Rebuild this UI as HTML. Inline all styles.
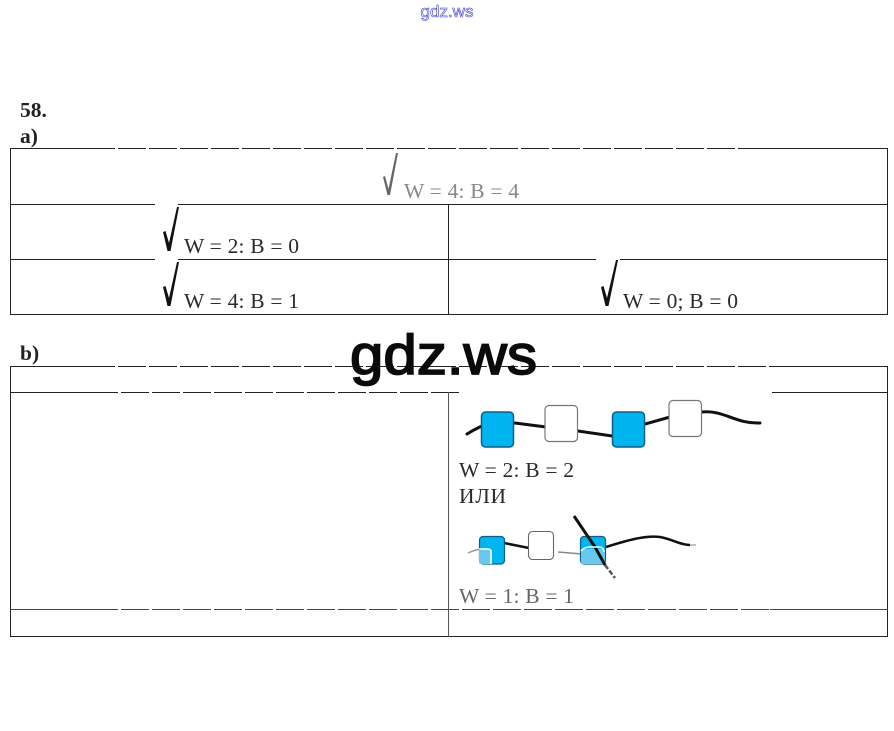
<!DOCTYPE html>
<html>
<head>
<meta charset="utf-8">
<style>
html,body{margin:0;padding:0;background:#fff;width:894px;height:731px;overflow:hidden}
svg{display:block}
.t{font-family:"Liberation Serif",serif;font-size:21.5px;fill:#2a2a2a}
.b{font-family:"Liberation Serif",serif;font-size:21.5px;font-weight:bold;fill:#222}
</style>
</head>
<body>
<svg width="894" height="731" viewBox="0 0 894 731" xmlns="http://www.w3.org/2000/svg">
<text x="447" y="17" text-anchor="middle" font-family="Liberation Sans,sans-serif" font-size="17" fill="#fff" stroke="#3a3ad0" stroke-width="0.6">gdz.ws</text>
<text class="b" x="20" y="117">58.</text>
<text class="b" x="20" y="143">a)</text>
<text class="b" x="20" y="360">b)</text>

<g stroke="#222" stroke-width="1" fill="none" shape-rendering="crispEdges">
<rect x="10.5" y="148.5" width="877" height="166"/>
<line x1="10" y1="204.500" x2="888" y2="204.500"/>
<line x1="10" y1="259.500" x2="888" y2="259.500"/>
<line x1="448.500" y1="204" x2="448.500" y2="315"/>
<rect x="10.5" y="366.5" width="877" height="270"/>
<line x1="10" y1="392.500" x2="888" y2="392.500"/>
<line x1="10" y1="609.500" x2="888" y2="609.500" stroke="#444"/>
<line x1="448.500" y1="392" x2="448.500" y2="637" stroke="#555"/>
</g>
<!-- gaps in lines -->
<g fill="#fff">
<rect x="155" y="203" width="23" height="3"/>
<rect x="155" y="258" width="23" height="3"/>
<rect x="596" y="258" width="24" height="3"/>
<rect x="461" y="391" width="311" height="3"/>
</g>
<g stroke="#fff" stroke-width="2" fill="none" stroke-dasharray="3 28">
<line x1="115" y1="148.500" x2="765" y2="148.500"/>
<line x1="115" y1="366.500" x2="770" y2="366.500"/>
<line x1="118" y1="392.500" x2="461" y2="392.500"/>
<line x1="118" y1="609.500" x2="770" y2="609.500"/>
</g>

<!-- check marks -->
<g stroke="none">
<polygon points="383,177 385,176 388.500,189 396,153 398,153 390,195 387.500,195" fill="#666"/>
<polygon points="163,232 165.500,231 169,243 177,207 179,207 170.500,251 167.500,251" fill="#111"/>
<polygon points="163,287 165.500,286 169,298 177,262 179,262 170.500,306 167.500,306" fill="#111"/>
<polygon points="601,287 603.500,286 607,298 616,260 618,260 608.500,306 605.500,306" fill="#111"/>
</g>

<text class="t" x="404" y="198" textLength="115" style="fill:#888">W = 4: B = 4</text>
<text class="t" x="184" y="253" textLength="115">W = 2: B = 0</text>
<text class="t" x="184" y="308" textLength="115">W = 4: B = 1</text>
<text class="t" x="623" y="308" textLength="115">W = 0; B = 0</text>
<text class="t" x="459" y="477" textLength="115">W = 2: B = 2</text>
<text class="t" x="459" y="503" textLength="47">ИЛИ</text>
<text class="t" x="459" y="603" textLength="115" style="fill:#666">W = 1: B = 1</text>

<!-- first chain -->
<path d="M467 434 C475 429 480 427 484 425 L515 423 L546 427 L578 431 L612 436 L645 424 L670 417 L702 412 C725 410 735 424 760 423" fill="none" stroke="#111" stroke-width="3" stroke-linecap="round"/>
<rect x="481.500" y="412" width="32" height="35" rx="4" fill="#00b4f0" stroke="#0a5f88" stroke-width="1.500"/>
<rect x="545" y="405.500" width="32.500" height="36" rx="4" fill="#fff" stroke="#777" stroke-width="1.200"/>
<rect x="612.500" y="412" width="32" height="35" rx="4" fill="#00b4f0" stroke="#0a5f88" stroke-width="1.500"/>
<rect x="669" y="400.500" width="32.500" height="36" rx="4" fill="#fff" stroke="#777" stroke-width="1.200"/>

<!-- second chain -->
<path d="M468 553 C472 551 476 550 480 549" fill="none" stroke="#999" stroke-width="1.500"/>
<path d="M504 543 L529 548" fill="none" stroke="#111" stroke-width="2.500"/>
<path d="M558 552 L582 554" fill="none" stroke="#888" stroke-width="1.500"/>
<path d="M606 547 C625 541 645 535 660 537 C672 539 680 545 690 545" fill="none" stroke="#111" stroke-width="2.500"/>
<path d="M690 545 L696 545" fill="none" stroke="#aaa" stroke-width="1.500"/>
<rect x="479.500" y="536.500" width="25" height="27.500" rx="3.500" fill="#00b4f0" stroke="#0a5f88" stroke-width="1.200"/>
<rect x="479" y="549" width="13" height="15" rx="2" fill="#69c8f0"/>
<path d="M479 549 L488 549 Q491 549 491 552 L491 564" fill="none" stroke="#fff" stroke-width="1.500"/>
<rect x="528.500" y="531.500" width="25" height="28" rx="4" fill="#fff" stroke="#666" stroke-width="1.100"/>
<rect x="580.500" y="536.500" width="25" height="27.500" rx="3.500" fill="#00b4f0" stroke="#0a5f88" stroke-width="1.200"/>
<rect x="581" y="549" width="24" height="15" rx="2" fill="#69c8f0"/>
<path d="M574 516 L595 547 L605 565" fill="none" stroke="#111" stroke-width="3"/>
<path d="M605 565 L615 578" fill="none" stroke="#555" stroke-width="2.500" stroke-dasharray="5 2"/>
<path d="M581 551 Q584 547 590 547 L600 547 Q604 548 604 552" fill="none" stroke="#fff" stroke-width="1.500"/>

<text x="350" y="374" font-family="Liberation Sans,sans-serif" font-size="56" fill="#0a0a0a" stroke="#0a0a0a" stroke-width="1.700" textLength="187" lengthAdjust="spacingAndGlyphs">gdz.ws</text>
</svg>
</body>
</html>
